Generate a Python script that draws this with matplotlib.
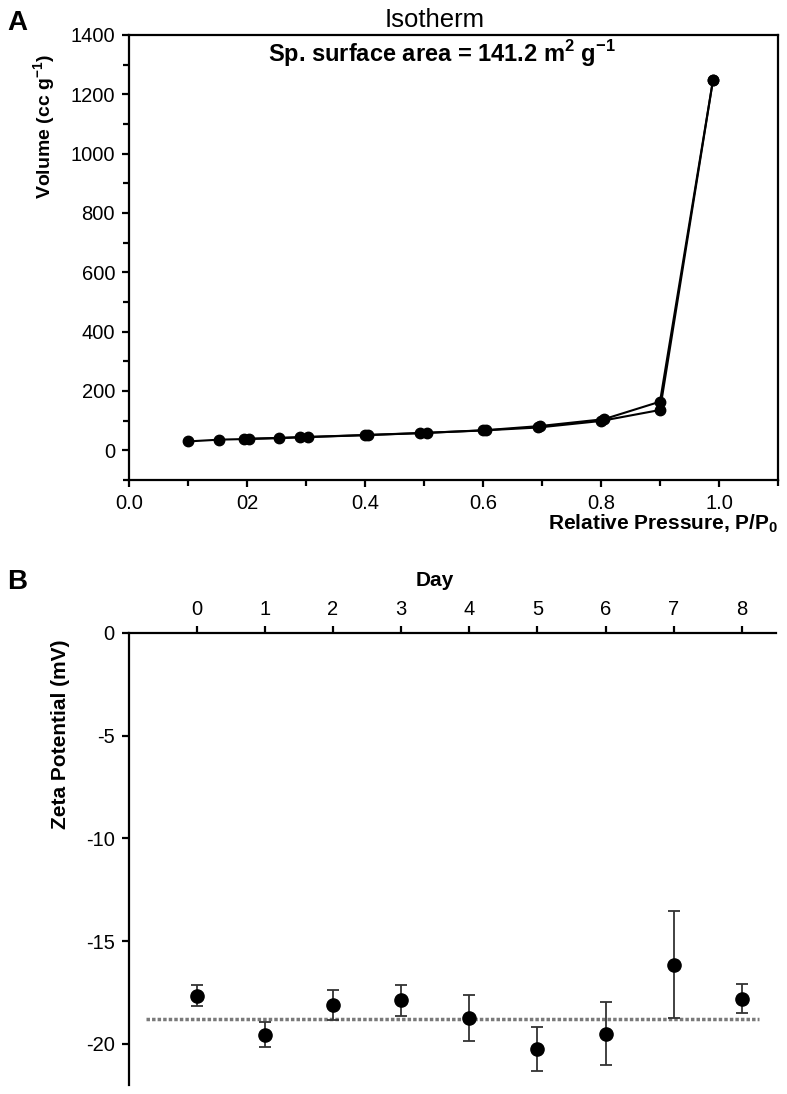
import matplotlib.pyplot as plt
from matplotlib.ticker import MultipleLocator, FixedLocator, FixedFormatter

plt.rcParams['font.family'] = ['Liberation Sans', 'DejaVu Sans']
plt.rcParams['mathtext.fontset'] = 'custom'
plt.rcParams['mathtext.rm'] = 'Liberation Sans'
plt.rcParams['mathtext.bf'] = 'Liberation Sans:bold'
plt.rcParams['axes.unicode_minus'] = False

# Panel A: nitrogen isotherm (adsorption and desorption branches)
ads_p = [0.10, 0.153, 0.195, 0.254, 0.290, 0.400, 0.493, 0.600, 0.694, 0.800, 0.900, 0.990]
ads_v = [30, 36, 38, 41, 44, 51, 58, 67, 77, 99, 136, 1250]
des_p = [0.990, 0.900, 0.805, 0.697, 0.605, 0.505, 0.405, 0.303, 0.203]
des_v = [1250, 164, 105, 82, 68, 59, 52, 45, 39]
a_xticks = [0.0, 0.2, 0.4, 0.6, 0.8, 1.0]
a_xticklabels = ["0.0", "02", "0.4", "0.6", "0.8", "1.0"]

# Panel B: zeta potential over days
days = [0, 1, 2, 3, 4, 5, 6, 7, 8]
zeta = [-17.65, -19.56, -18.09, -17.88, -18.74, -20.24, -19.50, -16.14, -17.80]
zeta_err = [0.51, 0.61, 0.73, 0.77, 1.13, 1.07, 1.55, 2.60, 0.70]
zeta_ref = -18.78

W, H = 787, 1094
fig = plt.figure(figsize=(W / 100, H / 100), dpi=100)

# ---------- Panel A ----------
ax1 = fig.add_axes([129 / W, 1 - 480 / H, (778 - 129) / W, (480 - 35) / H])
ax1.plot(ads_p, ads_v, color="black", lw=1.5, marker="o", ms=7.5)
ax1.plot(des_p, des_v, color="black", lw=1.5, marker="o", ms=7.5)
ax1.set_xlim(0, 1.1)
ax1.set_ylim(-100, 1400)
ax1.xaxis.set_major_locator(FixedLocator(a_xticks))
ax1.xaxis.set_major_formatter(FixedFormatter(a_xticklabels))
ax1.xaxis.set_minor_locator(MultipleLocator(0.1))
ax1.yaxis.set_major_locator(MultipleLocator(200))
ax1.yaxis.set_minor_locator(MultipleLocator(100))
for s in ax1.spines.values():
    s.set_linewidth(1.6)
ax1.tick_params(which="both", direction="out", width=1.6, labelsize=14.5,
                top=False, right=False)
ax1.tick_params(which="major", length=5, pad=5)
ax1.tick_params(which="minor", length=4)
ax1.text(0.471, 1.018, "Isotherm", transform=ax1.transAxes, ha="center",
         va="baseline", fontsize=18.5)
ax1.text(0.482, 0.939, r"Sp. surface area = 141.2 m$^\mathbf{2}$ g$^\mathbf{-1}$",
         transform=ax1.transAxes, ha="center", va="baseline", fontsize=17,
         fontweight="bold")
ax1.text(1.0, -0.112, r"Relative Pressure, P/P$_\mathbf{0}$", transform=ax1.transAxes,
         ha="right", va="baseline", fontsize=15, fontweight="bold")
ax1.set_ylabel(r"Volume (cc g$^\mathbf{-1}$)", fontsize=14, fontweight="bold")
ax1.yaxis.set_label_coords(-0.109, 0.795)

# ---------- Panel B ----------
ax2 = fig.add_axes([128.6 / W, 1 - 1085 / H, (776 - 128.6) / W, (1085 - 633) / H])
ax2.hlines(zeta_ref, -0.75, 8.25, colors="#7a7a7a", lw=2.5,
           linestyles=(0, (1, 0.6)), zorder=1)
ax2.errorbar(days, zeta, yerr=zeta_err, fmt="o", color="black", ms=9.5,
             ecolor="#333333", elinewidth=1.3, capsize=4, capthick=1.3, zorder=3)
ax2.set_xlim(-1, 8.5)
ax2.set_ylim(-22, 0)
ax2.set_xticks(days)
ax2.set_yticks([0, -5, -10, -15, -20])
ax2.spines["bottom"].set_visible(False)
ax2.spines["right"].set_visible(False)
for s in ("top", "left"):
    ax2.spines[s].set_linewidth(1.6)
ax2.xaxis.set_ticks_position("top")
ax2.xaxis.set_label_position("top")
ax2.tick_params(direction="out", width=1.6, length=5, labelsize=14.5, pad=5)
ax2.set_xlabel("Day", fontsize=15, fontweight="bold", labelpad=10)
ax2.xaxis.set_label_coords(0.473, 1.105)
ax2.set_ylabel("Zeta Potential (mV)", fontsize=15, fontweight="bold")
ax2.yaxis.set_label_coords(-0.09, 0.775)

fig.text(7 / W, 1 - 23 / H, "A", fontsize=20, fontweight="bold", va="center", ha="left")
fig.text(7 / W, 1 - 582 / H, "B", fontsize=20, fontweight="bold", va="center", ha="left")

fig.savefig("out.png", dpi=100)
